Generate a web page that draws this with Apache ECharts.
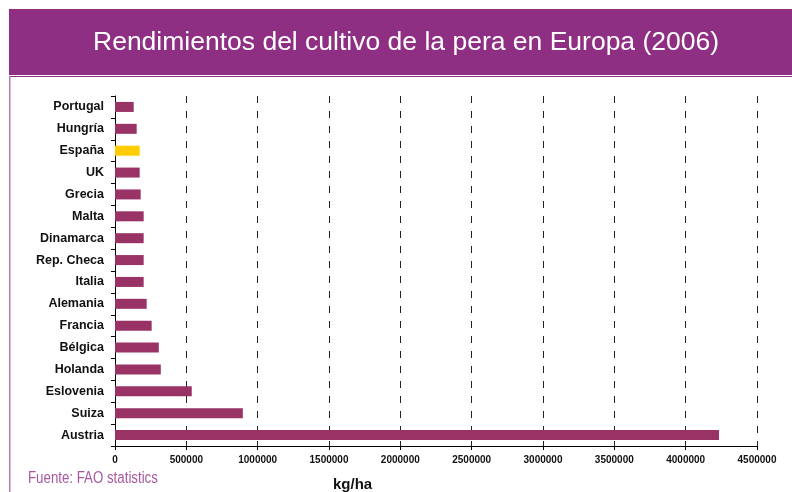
<!DOCTYPE html>
<html><head><meta charset="utf-8">
<script src="https://cdn.jsdelivr.net/npm/echarts@6/dist/echarts.min.js"></script>
<style>html,body{margin:0;padding:0;background:#fff}#c{width:792px;height:492px}</style>
</head><body><div id="c"></div>
<script>
const categories = ['Portugal','Hungría','España','UK','Grecia','Malta','Dinamarca','Rep. Checa','Italia','Alemania','Francia','Bélgica','Holanda','Eslovenia','Suiza','Austria'];
const values = [131000,152000,173000,173000,180000,201000,201000,201000,201000,222000,257000,307000,321000,538000,896000,4234000];
const highlight = 'España';
const xTicks = [0,500000,1000000,1500000,2000000,2500000,3000000,3500000,4000000,4500000];
const title = 'Rendimientos del cultivo de la pera en Europa (2006)';
const source = 'Fuente: FAO statistics';
const unit = 'kg/ha';

const chart = echarts.init(document.getElementById('c'), null, {renderer:'canvas'});
const sans = '"Liberation Sans",Arial,sans-serif';
chart.setOption({
  animation:false,
  backgroundColor:'#fff',
  grid:{left:115,right:35,top:96,bottom:46,containLabel:false},
  xAxis:{
    type:'value',min:xTicks[0],max:xTicks[xTicks.length-1],interval:500000,
    axisLine:{show:true,lineStyle:{color:'#000',width:1}},
    axisTick:{show:true,length:4,lineStyle:{color:'#000'}},
    axisLabel:{margin:9,color:'#111',fontSize:10,fontWeight:'bold',fontFamily:sans,formatter:v=>String(v)},
    splitLine:{show:true,lineStyle:{color:'#222',type:[7,8],width:1}}
  },
  yAxis:{
    type:'category',data:categories,inverse:true,
    axisLine:{show:true,lineStyle:{color:'#000',width:1}},
    axisTick:{show:true,length:4,lineStyle:{color:'#000'}},
    axisLabel:{margin:11,color:'#111',fontSize:12.5,fontWeight:'bold',fontFamily:sans},
    splitLine:{show:false}
  },
  series:[{
    type:'bar',barWidth:10,
    data:values.map((v,i)=>({value:v,itemStyle:{color:categories[i]===highlight?'#ffcc00':'#993366'}}))
  }],
  graphic:[
    {type:'rect',left:9,top:9,shape:{width:783,height:66},style:{fill:'#8e2f83'}},
    {type:'rect',left:9,top:76,shape:{width:783,height:1},style:{fill:'#8e2f83'}},
    {type:'rect',left:9,top:76,shape:{width:1.5,height:416},style:{fill:'#b77bb0'}},
    {type:'text',x:93,y:29,style:{text:title,fill:'#fff',font:'26.5px '+sans}},
    {type:'text',x:28,y:471,scaleX:0.83,style:{text:source,fill:'#a858a0',font:'16px '+sans}},
    {type:'text',x:333,y:477,style:{text:unit,fill:'#111',font:'bold 15px '+sans}}
  ]
});
</script></body></html>
